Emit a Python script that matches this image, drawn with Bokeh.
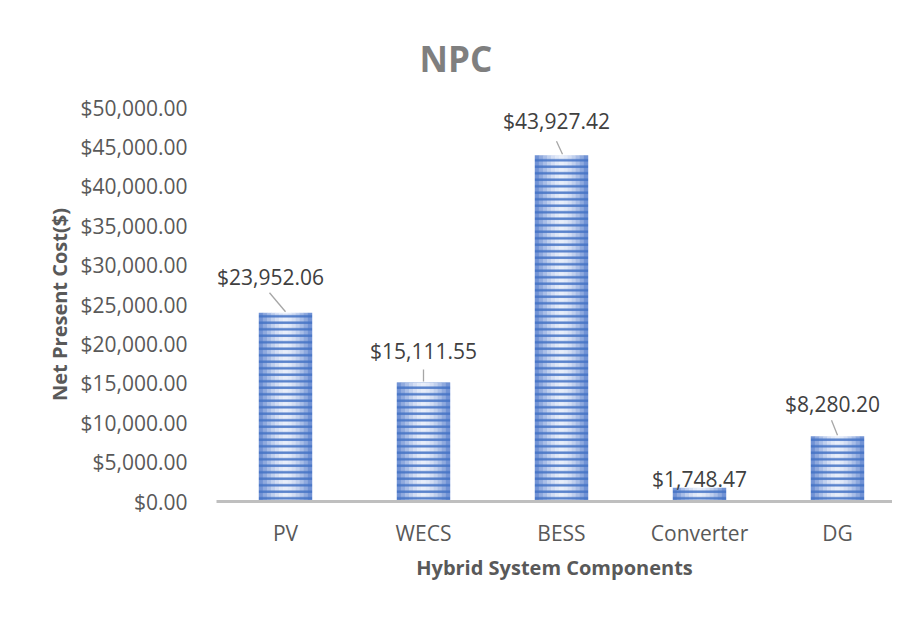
from bokeh.plotting import figure
from bokeh.models import Range1d, FixedTicker, NumeralTickFormatter, ColumnDataSource, LabelSet
from bokeh.core.properties import value
from bokeh.embed import file_html
from bokeh.resources import INLINE

# ---- data ----
categories = ["PV", "WECS", "BESS", "Converter", "DG"]
npc_values = [23952.06, 15111.55, 43927.42, 1748.47, 8280.20]
value_labels = ["$23,952.06", "$15,111.55", "$43,927.42", "$1,748.47", "$8,280.20"]
y_ticks = [0, 5000, 10000, 15000, 20000, 25000, 30000, 35000, 40000, 45000, 50000]

# ---- label layout (pixel offsets from bar-top centre) ----
label_dx = [-15, 0, -5, 0, -5]
label_dy = [36, 31, 34, 9, 32]
leader_from = [(0, 1), (0, 1), (1, 1), None, (0, 1)]
leader_to = [(-16, 20), (0, 13), (-5, 14), None, (-6, 16)]

FONT = "Open Sans"
TXT = "#595959"
Y_MAX = 50000
FRAME_H = 394
PX_PER_X = 138.0
W, H = 892, 602
LEFT, TOP = 216, 107
BOTTOM = H - (TOP + FRAME_H)

xs = list(range(len(categories)))

p = figure(width=W, height=H, output_backend="svg", toolbar_location=None,
           x_range=Range1d(-0.5, -0.5 + (W - LEFT) / PX_PER_X), y_range=Range1d(0, Y_MAX),
           min_border_left=LEFT, min_border_right=0, min_border_top=TOP, min_border_bottom=BOTTOM,
           background_fill_color="white", border_fill_color="white")
p.outline_line_color = None
p.xgrid.visible = False
p.ygrid.visible = False

# ---- bars: horizontal gradient strips + stripe hatch ----
bar_w = 0.385
N = 13
c_center = (232, 238, 250)
c_edge = (98, 134, 208)
for i in range(N):
    t = abs((i + 0.5) / N - 0.5) * 2
    t = t ** 1.6
    col = tuple(int(round(c_center[k] + (c_edge[k] - c_center[k]) * t)) for k in range(3))
    hexc = "#%02x%02x%02x" % col
    off = -bar_w / 2 + (i + 0.5) * bar_w / N
    p.vbar(x=[x + off for x in xs], top=npc_values, width=bar_w / N * 1.08,
           fill_color=hexc, line_color=None)

p.vbar(x=xs, top=npc_values, width=bar_w, fill_color=None, line_color=None,
       hatch_pattern="horizontal_line", hatch_color="#4472C4", hatch_scale=6.5,
       hatch_weight=2.4, hatch_alpha=0.9)

# ---- leader lines ----
ypp = Y_MAX / FRAME_H
x0s, y0s, x1s, y1s = [], [], [], []
for i, (a, b) in enumerate(zip(leader_from, leader_to)):
    if a is None:
        continue
    x0s.append(xs[i] + a[0] / PX_PER_X)
    y0s.append(npc_values[i] + a[1] * ypp)
    x1s.append(xs[i] + b[0] / PX_PER_X)
    y1s.append(npc_values[i] + b[1] * ypp)
p.segment(x0=x0s, y0=y0s, x1=x1s, y1=y1s, line_color="#a6a6a6", line_width=1.3)

# ---- value labels ----
src = ColumnDataSource(dict(x=xs, y=npc_values, text=value_labels, dx=label_dx, dy=label_dy))
p.add_layout(LabelSet(x="x", y="y", text="text", x_offset="dx", y_offset="dy", source=src,
                      text_align="center", text_baseline="middle",
                      text_font=value(FONT), text_font_size="21px", text_color="#404040"))

# ---- axes ----
p.xaxis.ticker = FixedTicker(ticks=xs)
p.xaxis.major_label_overrides = {i: c for i, c in zip(xs, categories)}
p.xaxis.axis_line_color = "#bfbfbf"
p.xaxis.axis_line_width = 3
p.xaxis.major_tick_line_color = None
p.xaxis.minor_tick_line_color = None
p.xaxis.major_label_text_font = FONT
p.xaxis.major_label_text_font_size = "21px"
p.xaxis.major_label_text_color = TXT
p.xaxis.major_label_standoff = 11
p.xaxis.axis_label = "Hybrid System Components"
p.xaxis.axis_label_text_font = FONT
p.xaxis.axis_label_text_font_size = "20px"
p.xaxis.axis_label_text_font_style = "bold"
p.xaxis.axis_label_text_color = TXT
p.xaxis.axis_label_standoff = 4

p.yaxis.ticker = FixedTicker(ticks=y_ticks)
p.yaxis.formatter = NumeralTickFormatter(format="$0,0.00")
p.yaxis.axis_line_color = None
p.yaxis.major_tick_line_color = None
p.yaxis.minor_tick_line_color = None
p.yaxis.major_label_text_font = FONT
p.yaxis.major_label_text_font_size = "21px"
p.yaxis.major_label_text_color = TXT
p.yaxis.major_label_standoff = 23
p.yaxis.axis_label = "Net Present Cost($)"
p.yaxis.axis_label_text_font = FONT
p.yaxis.axis_label_text_font_size = "20px"
p.yaxis.axis_label_text_font_style = "bold"
p.yaxis.axis_label_text_color = TXT
p.yaxis.axis_label_standoff = 4

# ---- title ----
p.title.text = "NPC"
p.title.align = "left"
p.title.text_font = FONT
p.title.text_font_size = "35px"
p.title.text_font_style = "bold"
p.title.text_color = "#7f7f7f"
p.title.offset = 203
p.title.standoff = 52

open("out.html", "w").write(file_html(p, INLINE))
